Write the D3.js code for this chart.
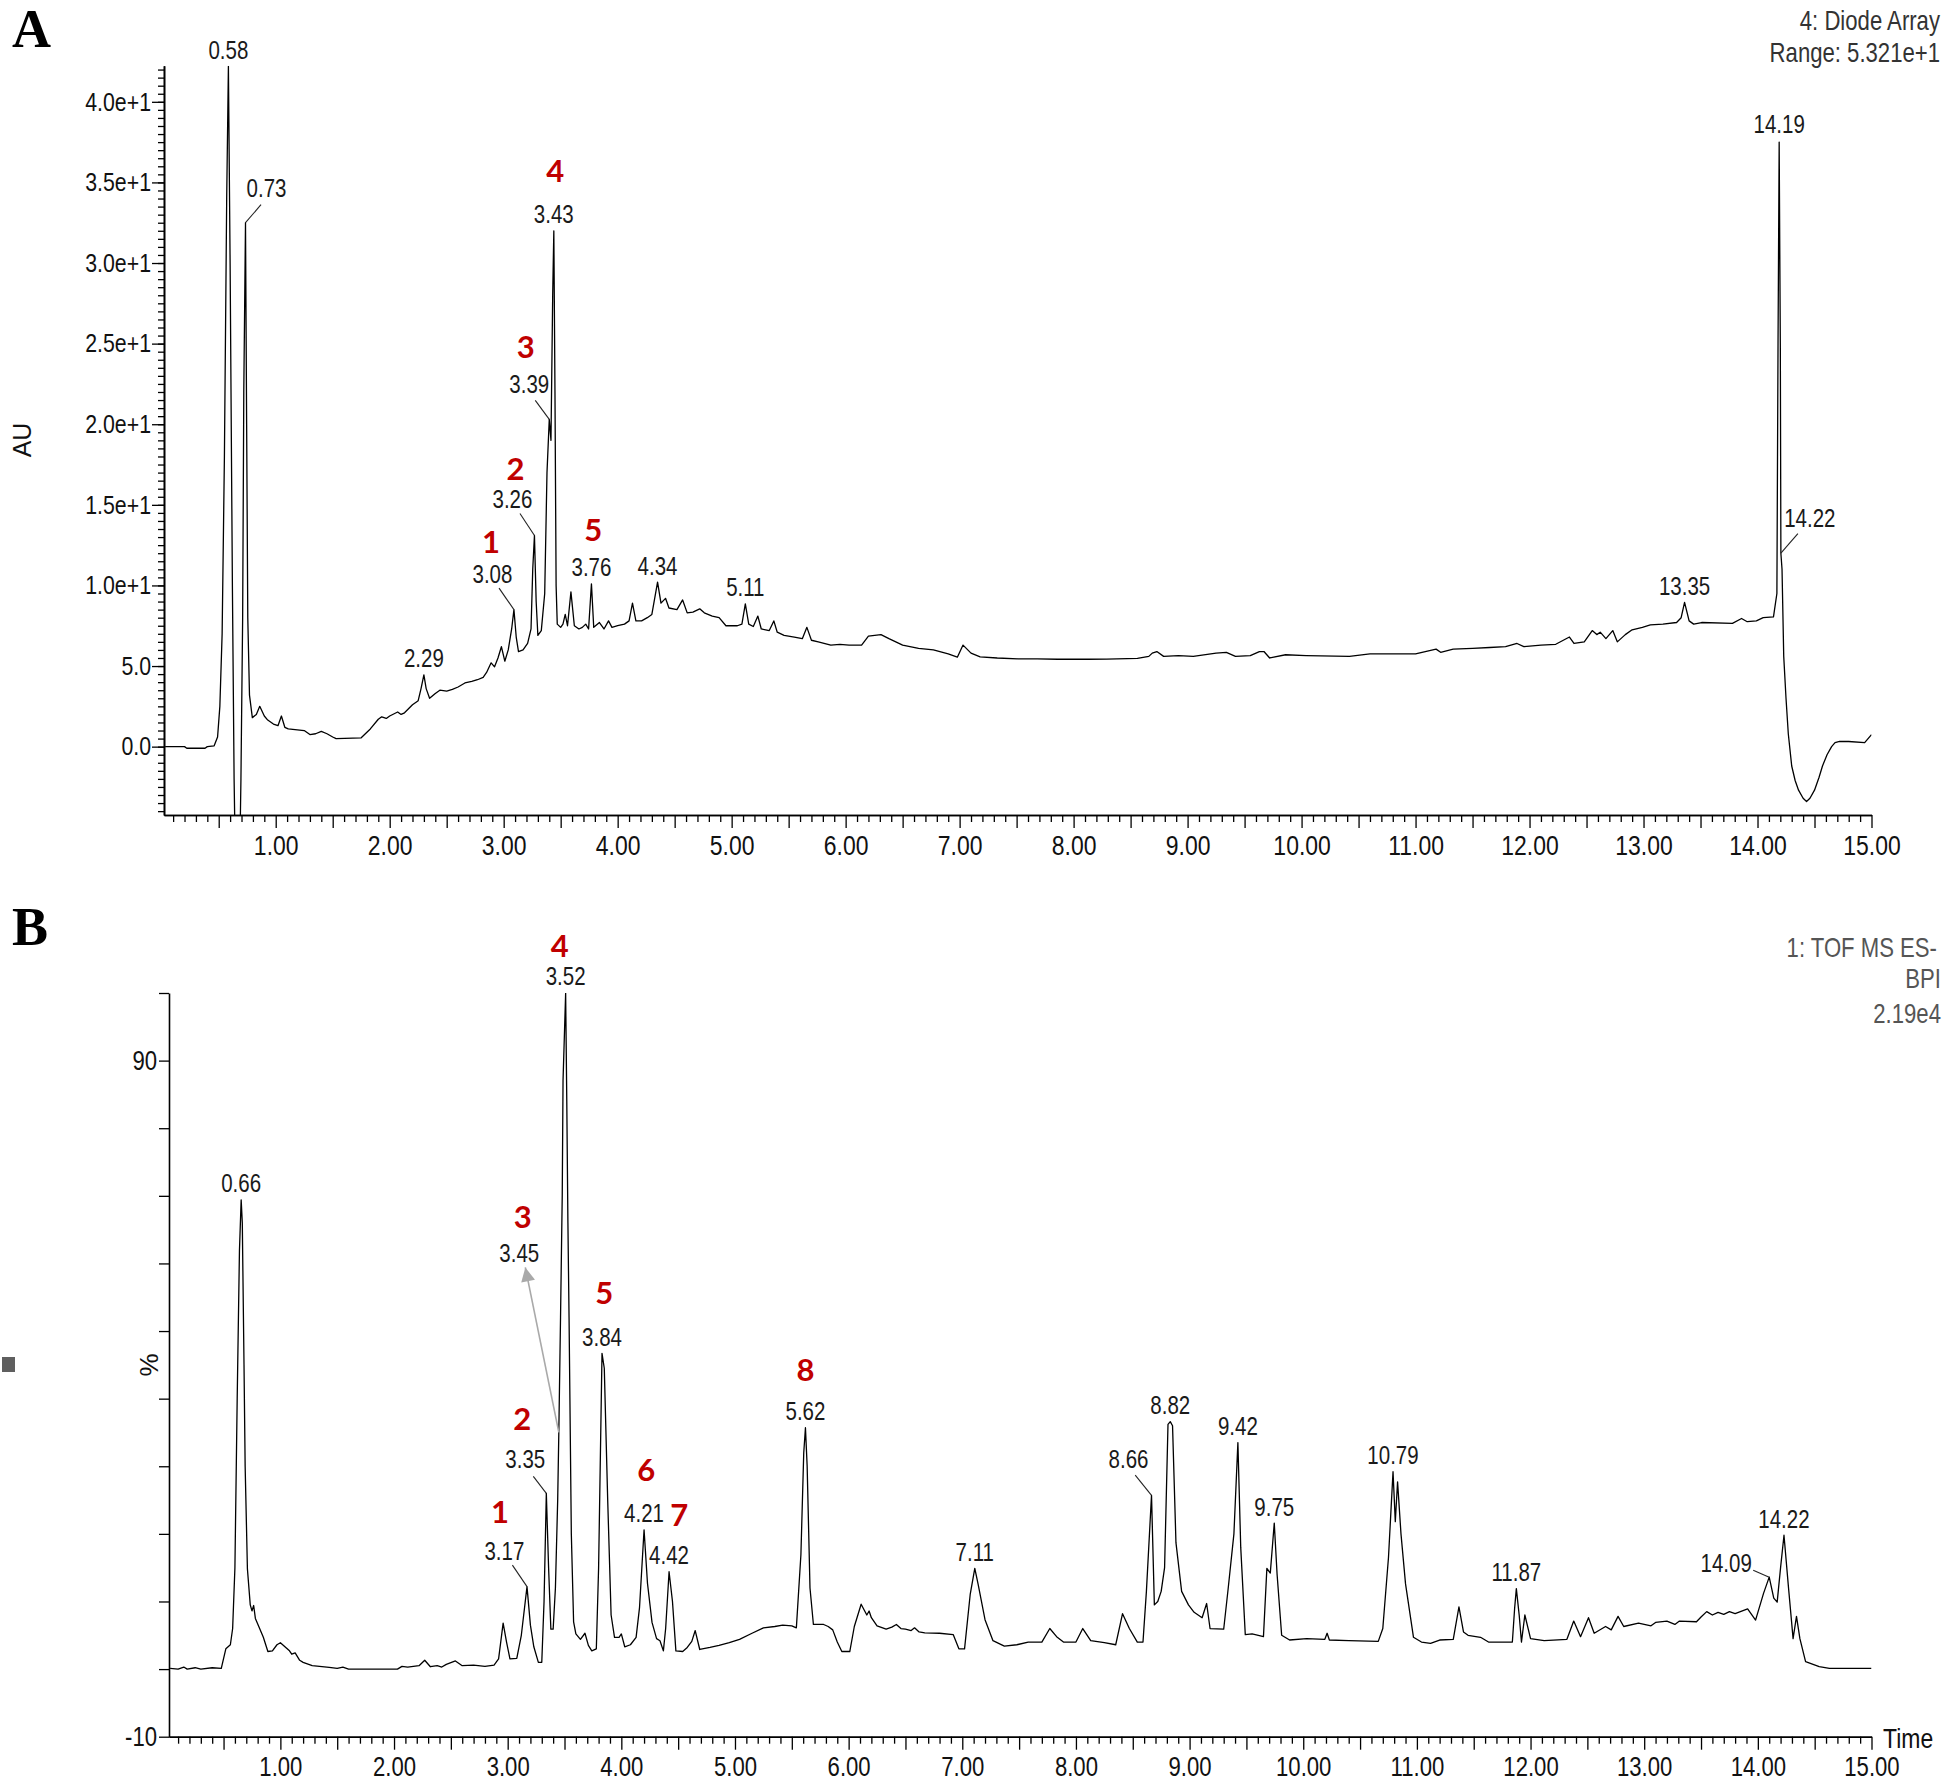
<!DOCTYPE html>
<html>
<head>
<meta charset="utf-8">
<script src="https://cdn.jsdelivr.net/npm/d3@7"></script>
<style>
  html, body { margin: 0; padding: 0; background: #fff; }
  svg { display: block; }
  .narrow { font-family: "Liberation Sans", Arial, sans-serif; }
</style>
</head>
<body>
<svg id="chart" width="1946" height="1780"></svg>
<script>
// ---- data: panel A (Diode Array, AU) ----
const traceA = [
  [0.03, 0.0], [0.20, 0.0], [0.22, -0.1], [0.38, -0.1], [0.40, 0.0], [0.46, 0.05],
  [0.49, 0.6], [0.51, 2.5], [0.53, 7], [0.55, 18], [0.57, 34], [0.585, 42.2],
  [0.60, 30], [0.62, 10], [0.635, -2], [0.65, -9], [0.68, -9], [0.695, -2],
  [0.71, 8], [0.72, 22], [0.735, 32.5], [0.745, 20], [0.755, 8], [0.77, 3.2],
  [0.795, 1.8], [0.83, 2.0], [0.86, 2.5], [0.90, 1.9], [0.93, 1.65], [0.98, 1.4],
  [1.02, 1.3], [1.05, 1.9], [1.08, 1.2], [1.11, 1.1], [1.25, 1.0], [1.30, 0.75],
  [1.35, 0.8], [1.40, 0.95], [1.45, 0.8], [1.50, 0.6], [1.53, 0.5], [1.75, 0.55],
  [1.83, 1.1], [1.90, 1.7], [1.93, 1.85], [1.97, 1.75], [2.00, 1.9], [2.07, 2.15],
  [2.10, 2.0], [2.13, 2.1], [2.20, 2.6], [2.25, 2.85], [2.275, 3.6], [2.30, 4.45],
  [2.32, 3.6], [2.35, 3.0], [2.40, 3.3], [2.44, 3.5], [2.50, 3.45], [2.55, 3.55],
  [2.60, 3.7], [2.66, 3.95], [2.72, 4.05], [2.77, 4.15], [2.82, 4.3], [2.85, 4.6],
  [2.89, 5.2], [2.92, 4.95], [2.95, 5.5], [2.98, 6.2], [3.01, 5.3], [3.04, 6.0],
  [3.07, 7.3], [3.09, 8.5], [3.11, 6.8], [3.13, 5.9], [3.17, 6.0], [3.21, 6.4],
  [3.24, 7.3], [3.255, 11], [3.27, 13.1], [3.285, 9], [3.30, 6.9], [3.33, 7.2],
  [3.36, 9.5], [3.38, 17], [3.40, 20.3], [3.415, 19], [3.43, 28], [3.44, 32.0],
  [3.45, 22], [3.46, 10], [3.47, 7.6], [3.50, 7.4], [3.52, 7.6], [3.54, 8.2],
  [3.56, 7.5], [3.59, 9.6], [3.62, 7.5], [3.66, 7.3], [3.69, 7.4], [3.72, 7.6],
  [3.745, 7.3], [3.77, 10.1], [3.79, 7.4], [3.84, 7.7], [3.88, 7.3], [3.92, 7.8],
  [3.95, 7.4], [4.00, 7.5], [4.06, 7.6], [4.10, 7.8], [4.13, 8.9], [4.16, 7.8],
  [4.21, 7.8], [4.26, 8.0], [4.30, 8.2], [4.35, 10.2], [4.38, 8.9], [4.42, 9.2],
  [4.45, 8.6], [4.52, 8.5], [4.57, 9.1], [4.61, 8.3], [4.66, 8.35], [4.72, 8.55],
  [4.76, 8.3], [4.83, 8.1], [4.89, 8.0], [4.95, 7.5], [5.05, 7.5], [5.09, 7.6],
  [5.12, 8.85], [5.15, 7.6], [5.19, 7.45], [5.23, 8.1], [5.26, 7.3], [5.33, 7.2],
  [5.37, 7.8], [5.40, 7.1], [5.46, 6.9], [5.55, 6.8], [5.62, 6.7], [5.66, 7.4],
  [5.70, 6.6], [5.76, 6.5], [5.87, 6.3], [5.95, 6.35], [6.03, 6.3], [6.14, 6.3],
  [6.20, 6.85], [6.31, 6.95], [6.38, 6.7], [6.50, 6.3], [6.64, 6.1], [6.77, 6.0],
  [6.90, 5.75], [6.98, 5.55], [7.03, 6.3], [7.10, 5.8], [7.18, 5.57], [7.33, 5.5],
  [7.51, 5.45], [7.68, 5.45], [7.86, 5.42], [8.12, 5.42], [8.29, 5.43], [8.56, 5.47],
  [8.66, 5.6], [8.69, 5.8], [8.73, 5.9], [8.79, 5.6], [8.92, 5.65], [9.05, 5.6],
  [9.25, 5.8], [9.34, 5.85], [9.42, 5.6], [9.55, 5.65], [9.63, 5.9], [9.67, 5.9],
  [9.72, 5.5], [9.86, 5.7], [10.04, 5.65], [10.42, 5.6], [10.60, 5.75], [11.00, 5.75],
  [11.18, 6.05], [11.22, 5.85], [11.33, 6.05], [11.50, 6.1], [11.65, 6.15], [11.79, 6.2],
  [11.89, 6.4], [11.95, 6.2], [12.10, 6.3], [12.23, 6.35], [12.35, 6.8], [12.39, 6.4],
  [12.48, 6.5], [12.55, 7.2], [12.59, 6.95], [12.62, 7.1], [12.67, 6.7], [12.73, 7.2],
  [12.77, 6.5], [12.84, 6.95], [12.90, 7.25], [12.99, 7.4], [13.06, 7.55], [13.17, 7.6],
  [13.29, 7.7], [13.33, 8.0], [13.36, 8.95], [13.40, 7.8], [13.44, 7.6], [13.51, 7.7],
  [13.78, 7.65], [13.86, 7.95], [13.91, 7.75], [13.99, 7.8], [14.05, 8.0], [14.14, 8.05],
  [14.17, 9.5], [14.18, 25], [14.19, 37.5], [14.20, 25], [14.205, 12.0], [14.215, 11.0],
  [14.23, 5.6], [14.25, 3.0], [14.27, 0.8], [14.30, -1.2], [14.33, -2.1], [14.36, -2.7],
  [14.40, -3.2], [14.43, -3.4], [14.46, -3.2], [14.50, -2.7], [14.54, -1.9], [14.57, -1.2],
  [14.61, -0.5], [14.65, 0.0], [14.68, 0.25], [14.72, 0.32], [14.80, 0.32], [14.94, 0.25],
  [15.0, 0.75]
];
// peak labels: [text, apex time, apex value]
const peaksA = [
  ["0.58", 0.585, 42.2], ["0.73", 0.735, 32.5], ["2.29", 2.30, 4.45],
  ["3.08", 3.09, 8.5], ["3.26", 3.27, 13.1], ["3.39", 3.40, 20.3],
  ["3.43", 3.44, 32.0], ["3.76", 3.77, 10.1], ["4.34", 4.35, 10.2],
  ["5.11", 5.12, 8.85], ["13.35", 13.36, 8.95], ["14.19", 14.19, 37.5],
  ["14.22", 14.205, 12.0]
];
// compound numbers: [number, peak label]
const compoundsA = [["1", "3.08"], ["2", "3.26"], ["3", "3.39"], ["4", "3.43"], ["5", "3.76"]];
const yTicksA = [0, 5, 10, 15, 20, 25, 30, 35, 40];
const infoA = ["4: Diode Array", "Range: 5.321e+1"];

// ---- data: panel B (TOF MS ES- BPI, %) ----
const traceB = [
  [0.03, 0.1], [0.10, 0.0], [0.15, 0.3], [0.18, 0.0], [0.25, 0.2], [0.30, 0.0],
  [0.40, 0.2], [0.48, 0.1], [0.52, 3.0], [0.56, 3.6], [0.58, 6], [0.60, 15],
  [0.62, 40], [0.64, 62], [0.655, 69.4], [0.665, 66], [0.68, 45], [0.69, 30],
  [0.71, 14.8], [0.735, 9.5], [0.75, 8.6], [0.765, 9.4], [0.78, 7.5], [0.81, 6.3],
  [0.85, 4.7], [0.89, 2.6], [0.93, 2.7], [0.97, 3.6], [1.00, 3.9], [1.04, 3.3],
  [1.08, 2.7], [1.10, 2.2], [1.13, 2.4], [1.17, 1.3], [1.20, 1.0], [1.28, 0.5],
  [1.43, 0.25], [1.50, 0.1], [1.55, 0.3], [1.60, 0.0], [2.03, 0.0], [2.07, 0.4],
  [2.12, 0.3], [2.22, 0.5], [2.27, 1.3], [2.32, 0.35], [2.38, 0.5], [2.42, 0.3],
  [2.46, 0.7], [2.54, 1.2], [2.60, 0.5], [2.70, 0.6], [2.80, 0.4], [2.88, 0.6],
  [2.92, 1.5], [2.96, 6.8], [2.99, 4.0], [3.02, 1.5], [3.08, 1.6], [3.12, 5],
  [3.17, 12.2], [3.20, 6.5], [3.23, 3.3], [3.27, 1.0], [3.30, 1.0], [3.32, 10],
  [3.34, 26], [3.36, 15], [3.38, 5.9], [3.40, 5.9], [3.42, 12], [3.44, 25],
  [3.45, 35], [3.465, 52], [3.48, 70], [3.487, 87], [3.51, 100], [3.52, 84],
  [3.53, 66], [3.54, 52], [3.56, 20], [3.58, 7], [3.60, 5.2], [3.64, 4.4],
  [3.68, 5.3], [3.71, 3.5], [3.74, 2.7], [3.78, 3.0], [3.80, 15], [3.83, 46.7],
  [3.85, 44.5], [3.88, 25], [3.91, 8], [3.94, 4.7], [3.98, 4.7], [4.00, 5.2],
  [4.03, 3.3], [4.08, 3.6], [4.13, 4.7], [4.16, 9.1], [4.20, 20.6], [4.23, 12.7],
  [4.27, 6.9], [4.31, 4.5], [4.34, 4.2], [4.37, 2.7], [4.39, 6], [4.42, 14.4],
  [4.45, 10], [4.48, 2.7], [4.54, 2.6], [4.58, 3.2], [4.62, 4.1], [4.65, 5.7],
  [4.69, 2.9], [4.78, 3.2], [4.86, 3.5], [4.95, 3.9], [5.04, 4.4], [5.15, 5.3],
  [5.25, 6.1], [5.35, 6.3], [5.42, 6.5], [5.50, 6.4], [5.54, 6.1], [5.58, 16.9],
  [5.605, 32], [5.62, 35.7], [5.635, 30], [5.66, 12], [5.69, 6.6], [5.78, 6.6],
  [5.82, 6.3], [5.86, 5.8], [5.90, 4], [5.94, 2.6], [6.01, 2.6], [6.05, 6.3],
  [6.11, 9.6], [6.16, 8.0], [6.18, 8.6], [6.20, 7.6], [6.25, 6.4], [6.33, 5.9],
  [6.38, 6.2], [6.42, 6.6], [6.46, 6.0], [6.50, 5.9], [6.55, 5.7], [6.58, 6.1],
  [6.62, 5.5], [6.67, 5.35], [6.80, 5.3], [6.92, 5.1], [6.97, 3.0], [7.02, 3.0],
  [7.07, 11.1], [7.11, 14.9], [7.14, 12.5], [7.20, 7.3], [7.27, 4.2], [7.37, 3.4],
  [7.48, 3.6], [7.58, 4.0], [7.70, 4.0], [7.77, 6.0], [7.83, 4.8], [7.89, 4.0],
  [8.00, 4.0], [8.06, 6.0], [8.13, 4.2], [8.25, 3.9], [8.35, 3.6], [8.41, 8.2],
  [8.47, 6.0], [8.54, 4.0], [8.59, 4.0], [8.62, 11.5], [8.665, 25.7], [8.69, 9.5],
  [8.72, 10.0], [8.75, 11.5], [8.78, 15], [8.81, 36.2], [8.83, 36.6], [8.85, 36],
  [8.88, 18.7], [8.93, 11.5], [8.99, 9.5], [9.04, 8.4], [9.11, 7.6], [9.15, 9.7],
  [9.18, 6.0], [9.30, 5.9], [9.34, 12], [9.39, 20], [9.425, 33.5], [9.45, 18],
  [9.49, 5.1], [9.55, 5.2], [9.65, 4.8], [9.68, 14.9], [9.71, 14.2], [9.745, 21.6],
  [9.77, 14], [9.81, 5.0], [9.88, 4.3], [10.03, 4.5], [10.19, 4.4], [10.21, 5.3],
  [10.23, 4.3], [10.40, 4.2], [10.66, 4.1], [10.70, 6.0], [10.75, 16.5], [10.79, 29.2],
  [10.81, 21.8], [10.83, 27.7], [10.86, 20], [10.90, 12.6], [10.97, 4.7], [11.04, 4.0],
  [11.12, 3.8], [11.20, 4.3], [11.32, 4.4], [11.37, 9.2], [11.41, 5.5], [11.45, 5.0],
  [11.56, 4.7], [11.63, 4.0], [11.84, 4.0], [11.86, 9], [11.875, 11.9], [11.90, 8],
  [11.92, 4.0], [11.95, 8.0], [12.00, 4.5], [12.12, 4.2], [12.32, 4.4], [12.38, 7.1],
  [12.44, 4.8], [12.51, 7.6], [12.56, 5.3], [12.66, 6.3], [12.71, 5.8], [12.77, 7.8],
  [12.82, 6.3], [12.95, 6.8], [13.06, 6.4], [13.10, 6.9], [13.20, 7.1], [13.27, 6.6],
  [13.31, 7.1], [13.46, 7.0], [13.50, 7.7], [13.55, 8.5], [13.60, 8.0], [13.65, 8.4],
  [13.70, 8.1], [13.75, 8.5], [13.80, 8.2], [13.91, 8.9], [13.98, 7.25], [14.05, 11.2],
  [14.10, 13.6], [14.14, 10.5], [14.17, 9.9], [14.20, 15], [14.23, 19.8], [14.27, 12],
  [14.31, 4.5], [14.34, 7.8], [14.37, 4.5], [14.42, 1.1], [14.54, 0.35], [14.63, 0.1],
  [15.0, 0.1]
];
const peaksB = [
  ["0.66", 0.655, 69.4], ["3.17", 3.17, 12.2], ["3.35", 3.34, 26],
  ["3.45", 3.45, 35], ["3.52", 3.51, 100], ["3.84", 3.83, 46.7],
  ["4.21", 4.20, 20.6], ["4.42", 4.42, 14.4], ["5.62", 5.62, 35.7],
  ["7.11", 7.11, 14.9], ["8.66", 8.665, 25.7], ["8.82", 8.83, 36.6],
  ["9.42", 9.425, 33.5], ["9.75", 9.745, 21.6], ["10.79", 10.79, 29.2],
  ["11.87", 11.875, 11.9], ["14.09", 14.10, 13.6], ["14.22", 14.23, 19.8]
];
const compoundsB = [
  ["1", "3.17"], ["2", "3.35"], ["3", "3.45"], ["4", "3.52"],
  ["5", "3.84"], ["6", "4.21"], ["7", "4.42"], ["8", "5.62"]
];
const yTicksB = [-10, 0, 10, 20, 30, 40, 50, 60, 70, 80, 90, 100];
const yLabelsB = [-10, 90];
const infoB = ["1: TOF MS ES-", "BPI", "2.19e4"];

// ---- layout (pixels) ----
// label offsets relative to the peak apex: dx, dy (baseline), lead = leader start relative to label
const labelLayoutA = {
  "0.73": { dx: 21, dy: -26, lead: [-5.5, 8] },
  "3.39": { dx: -20, dy: -26, lead: [6, 7] },
  "3.26": { dx: -22, dy: -27, lead: [7.5, 5] },
  "3.08": { dx: -21.5, dy: -26.5, lead: [6.6, 5] },
  "14.22": { dx: 29, dy: -26.6, lead: [-12, 7] },
  "14.19": { dx: 0, dy: -9.5 }
};
const labelLayoutB = {
  "3.35": { dx: -21, dy: -25, lead: [8, 8] },
  "3.17": { dx: -22.6, dy: -26.5, lead: [8, 5] },
  "8.66": { dx: -23, dy: -27, lead: [6.7, 6.7] },
  "14.09": { dx: -43, dy: -5, lead: [27, -2] },
  "3.45": { dx: -39.5, dy: -170, arrow: [6, 5] }
};
const redLayoutA = {
  "1": [-1.4, -30.6], "2": [3, -28.3], "3": [-3.6, -35], "4": [1.5, -41.6], "5": [1.8, -35.7]
};
const redLayoutB = {
  "1": [-4.4, -36.7], "2": [-3, -38.3], "3": [3.4, -34], "4": [-6, -29],
  "5": [2.3, -42.3], "6": [2.2, -41.6], "7": [10.2, -38.3], "8": [0, -39.5]
};

const svg = d3.select("#chart");
const RED = "#c00000";
const NARROW = 0.82; // horizontal squeeze to mimic a narrow sans face

const xA = d3.scaleLinear().domain([0.02, 15]).range([164, 1871.5]);
const yA = d3.scaleLinear().domain([-4.24, 42.24]).range([815, 65.7]);
const xB = d3.scaleLinear().domain([0.02, 15]).range([169, 1871.5]);
const yB = d3.scaleLinear().domain([-10, 100]).range([1736.7, 993]);

function narrow(sel) {
  sel.each(function () {
    const t = d3.select(this);
    const x = +(t.attr("x") || 0);
    t.attr("class", "narrow")
      .attr("x", x / NARROW)
      .attr("transform", `scale(${NARROW},1)`);
  });
}

const defs = svg.append("defs");
defs.append("clipPath").attr("id", "clipA").append("rect")
  .attr("x", xA.range()[0]).attr("y", yA.range()[1])
  .attr("width", xA.range()[1] - xA.range()[0]).attr("height", yA.range()[0] - yA.range()[1]);
defs.append("clipPath").attr("id", "clipB").append("rect")
  .attr("x", xB.range()[0]).attr("y", yB.range()[1])
  .attr("width", xB.range()[1] - xB.range()[0]).attr("height", yB.range()[0] - yB.range()[1]);
defs.append("marker").attr("id", "arrowhead")
  .attr("viewBox", "0 0 10 10").attr("refX", 10).attr("refY", 5)
  .attr("markerUnits", "userSpaceOnUse")
  .attr("markerWidth", 20).attr("markerHeight", 14)
  .attr("orient", "auto")
  .append("path").attr("d", "M0,0 L10,5 L0,10 z").attr("fill", "#a9a9a9");

const halfTicks = d3.range(1, 31).map(i => i / 2);
const tenthTicks = d3.range(1, 151).map(i => i / 10).filter(t => !Number.isInteger(t * 2));

function styleAxis(g) {
  g.select(".domain").attr("stroke", "#000").attr("stroke-width", 1.6);
  g.selectAll(".tick line").attr("stroke", "#000").attr("stroke-width", 1.3);
  g.selectAll("text").attr("fill", "#111");
}

function drawTimeAxis(x, y0, fontSize, labelY) {
  const g = svg.append("g");
  g.append("g").attr("transform", `translate(0,${y0})`)
    .call(d3.axisBottom(x).tickValues(tenthTicks).tickSize(7).tickSizeOuter(0).tickFormat(""))
    .call(styleAxis);
  const major = g.append("g").attr("transform", `translate(0,${y0})`)
    .call(d3.axisBottom(x).tickValues(halfTicks).tickSize(13).tickSizeOuter(0)
      .tickFormat(d => Number.isInteger(d) ? d.toFixed(2) : ""))
    .call(styleAxis);
  major.selectAll("text").attr("y", labelY).attr("dy", null)
    .attr("font-size", fontSize).call(narrow);
  return g;
}

function drawTrace(data, x, y, clip) {
  svg.append("path")
    .datum(data)
    .attr("clip-path", `url(#${clip})`)
    .attr("fill", "none")
    .attr("stroke", "#000")
    .attr("stroke-width", 1.3)
    .attr("stroke-linejoin", "round")
    .attr("d", d3.line().x(d => x(d[0])).y(d => y(d[1])));
}

function drawLabels(peaks, layout, compounds, redLayout, x, y) {
  const g = svg.append("g");
  const pos = {};
  peaks.forEach(([txt, t, v]) => {
    const px = x(t), py = y(v);
    const o = layout[txt] || { dx: 0, dy: -7.5 };
    const lx = px + o.dx, ly = py + o.dy;
    pos[txt] = [lx, ly];
    g.append("text")
      .attr("x", lx).attr("y", ly)
      .attr("text-anchor", "middle")
      .attr("font-size", 25).attr("fill", "#1a1a1a")
      .text(txt)
      .call(narrow);
    if (o.lead) {
      g.append("line")
        .attr("x1", lx + o.lead[0]).attr("y1", ly + o.lead[1])
        .attr("x2", px).attr("y2", py)
        .attr("stroke", "#222").attr("stroke-width", 1.1);
    }
    if (o.arrow) {
      g.append("line")
        .attr("x1", px).attr("y1", py)
        .attr("x2", lx + o.arrow[0]).attr("y2", ly + o.arrow[1])
        .attr("stroke", "#a9a9a9").attr("stroke-width", 1.6)
        .attr("marker-end", "url(#arrowhead)");
    }
  });
  compounds.forEach(([num, peak]) => {
    const [lx, ly] = pos[peak];
    const o = redLayout[num];
    g.append("text")
      .attr("x", lx + o[0]).attr("y", ly + o[1])
      .attr("text-anchor", "middle")
      .attr("font-family", "Lato, 'Open Sans', sans-serif")
      .attr("font-weight", 700)
      .attr("font-size", 31)
      .attr("fill", RED)
      .text(num);
  });
}

// ---------------- Panel A ----------------
svg.append("text").attr("x", 12).attr("y", 47)
  .attr("font-family", "'Liberation Serif', 'Times New Roman', serif")
  .attr("font-weight", 700).attr("font-size", 54).text("A");

const yAxisA = svg.append("g");
yAxisA.append("g").attr("transform", `translate(${xA.range()[0]},0)`)
  .call(d3.axisLeft(yA).tickValues(d3.range(-8, 85).map(i => i / 2)).tickSize(6).tickSizeOuter(0).tickFormat(""))
  .call(styleAxis);
yAxisA.append("g").attr("transform", `translate(${xA.range()[0]},0)`)
  .call(d3.axisLeft(yA).tickValues(yTicksA).tickSize(12).tickSizeOuter(0).tickPadding(1)
    .tickFormat(d => d < 10 ? d.toFixed(1) : (d / 10).toFixed(1) + "e+1"))
  .call(styleAxis)
  .selectAll("text").attr("font-size", 26).call(narrow);

drawTimeAxis(xA, yA.range()[0], 28, 40);
drawTrace(traceA, xA, yA, "clipA");
drawLabels(peaksA, labelLayoutA, compoundsA, redLayoutA, xA, yA);

svg.append("text")
  .attr("transform", "translate(31,440) rotate(-90)")
  .attr("text-anchor", "middle")
  .attr("font-family", "'Liberation Sans', Arial, sans-serif")
  .attr("font-size", 25).attr("fill", "#111")
  .text("AU");

svg.append("g").selectAll("text").data(infoA).join("text")
  .attr("x", 1940).attr("y", (d, i) => 30 + i * 32)
  .attr("text-anchor", "end").attr("font-size", 27).attr("fill", "#333")
  .text(d => d)
  .call(narrow);

// ---------------- Panel B ----------------
svg.append("text").attr("x", 12).attr("y", 945)
  .attr("font-family", "'Liberation Serif', 'Times New Roman', serif")
  .attr("font-weight", 700).attr("font-size", 54).text("B");

svg.append("g").attr("transform", `translate(${xB.range()[0]},0)`)
  .call(d3.axisLeft(yB).tickValues(yTicksB).tickSize(10).tickSizeOuter(0).tickPadding(2)
    .tickFormat(d => yLabelsB.includes(d) ? String(d) : ""))
  .call(styleAxis)
  .selectAll("text").attr("font-size", 27).call(narrow);

drawTimeAxis(xB, yB.range()[0], 27, 39);
drawTrace(traceB, xB, yB, "clipB");
drawLabels(peaksB, labelLayoutB, compoundsB, redLayoutB, xB, yB);

svg.append("text")
  .attr("transform", "translate(158,1365) rotate(-90)")
  .attr("text-anchor", "middle")
  .attr("font-family", "'Liberation Sans', Arial, sans-serif")
  .attr("font-size", 26).attr("fill", "#111")
  .text("%");

svg.append("rect").attr("x", 2).attr("y", 1357).attr("width", 13).attr("height", 15).attr("fill", "#5f5f5f");

svg.append("text")
  .attr("x", 1883).attr("y", 1748)
  .attr("font-size", 28).attr("fill", "#111")
  .text("Time")
  .call(narrow);

svg.append("g").selectAll("text").data(infoB).join("text")
  .attr("x", (d, i) => i === 0 ? 1937 : 1941)
  .attr("y", (d, i) => [957, 988, 1023][i])
  .attr("text-anchor", "end").attr("font-size", 27).attr("fill", "#555")
  .text(d => d)
  .call(narrow);
</script>
</body>
</html>
